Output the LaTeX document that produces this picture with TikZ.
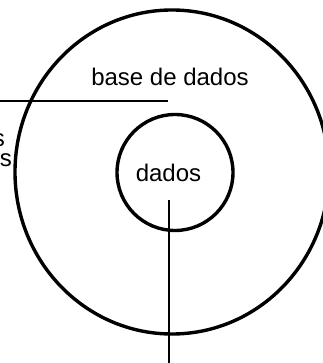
\documentclass[tikz,border=0pt]{standalone}
\usepackage{fontspec}
\setmainfont{Liberation Sans}
\begin{document}
\begin{tikzpicture}[x=1pt,y=-1pt,
  ring/.style={line width=3.4pt},
  leader/.style={line width=1.3pt},
  lbl/.style={inner sep=0pt,font=\fontsize{24}{28}\selectfont}]
\useasboundingbox (0,0) rectangle (322,363);
\draw[ring] (172,172) ellipse [x radius=157pt, y radius=162pt];
\draw[ring] (175,172.5) circle [radius=58pt];
\node[lbl,anchor=base] (bd) at (170,86) {base de dados};
\node[lbl,anchor=base] (d) at (168.5,182) {dados};
\node[lbl,anchor=base east] (s1) at (5,147) {s};
\node[lbl,anchor=base east] (s2) at (12,167) {s};
\coordinate (h0) at (-2,101);
\coordinate (h1) at (168,101);
\coordinate (v0) at (169,200);
\coordinate (v1) at (169,365);
\draw[leader] (h0) -- (h1);
\draw[leader] (v0) -- (v1);
\end{tikzpicture}
\end{document}
